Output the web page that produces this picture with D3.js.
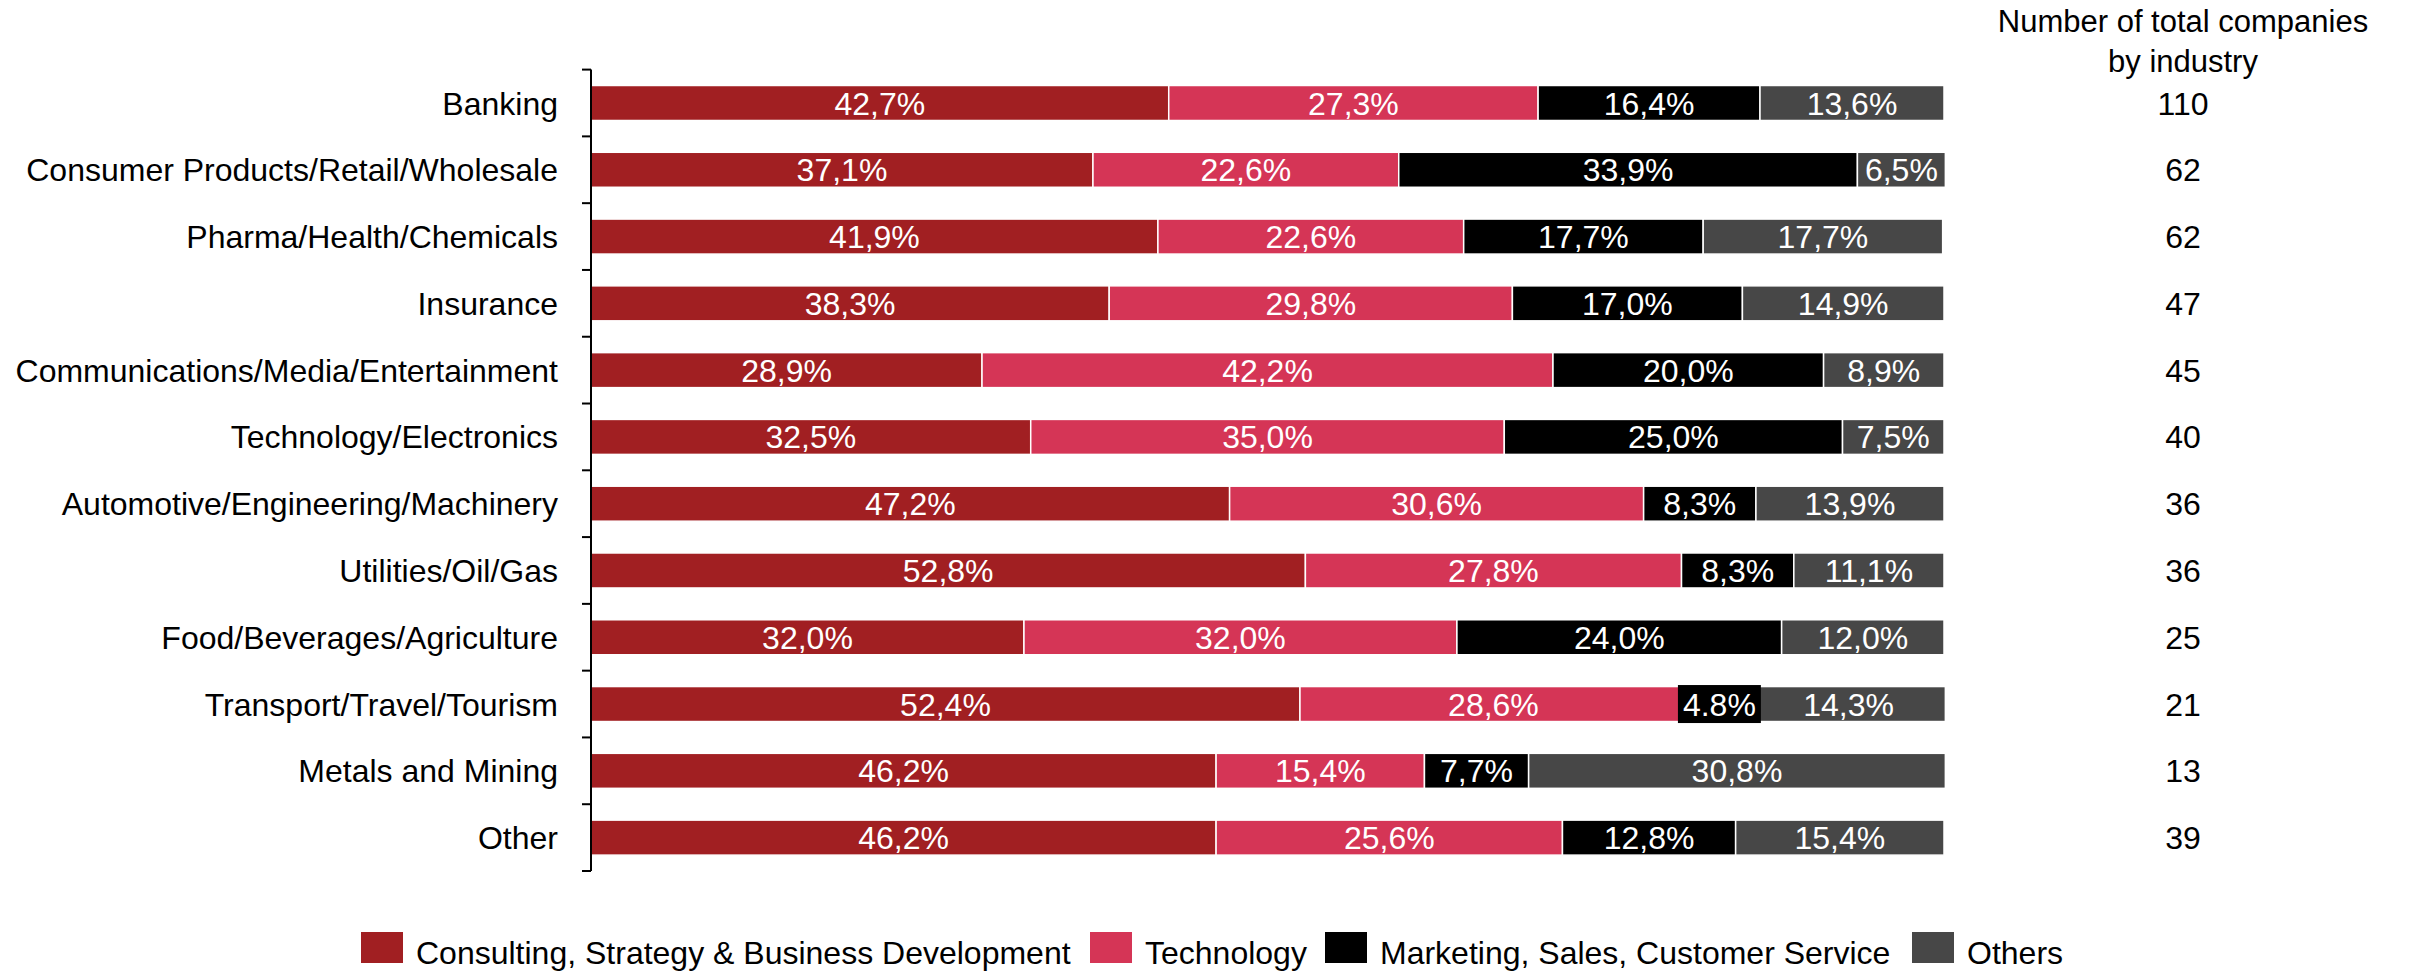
<!DOCTYPE html>
<html>
<head>
<meta charset="utf-8">
<script src="https://cdn.jsdelivr.net/npm/d3@7"></script>
<style>
  body { margin: 0; background: #fff; }
  text { font-family: "Liberation Sans", Arial, sans-serif; }
</style>
</head>
<body>
<div id="chart"></div>
<script>
var industries = ["Banking", "Consumer Products/Retail/Wholesale", "Pharma/Health/Chemicals", "Insurance",
  "Communications/Media/Entertainment", "Technology/Electronics", "Automotive/Engineering/Machinery",
  "Utilities/Oil/Gas", "Food/Beverages/Agriculture", "Transport/Travel/Tourism", "Metals and Mining", "Other"];
var seriesNames = ["Consulting, Strategy & Business Development", "Technology", "Marketing, Sales, Customer Service", "Others"];
var consulting = [42.7, 37.1, 41.9, 38.3, 28.9, 32.5, 47.2, 52.8, 32.0, 52.4, 46.2, 46.2];
var technology = [27.3, 22.6, 22.6, 29.8, 42.2, 35.0, 30.6, 27.8, 32.0, 28.6, 15.4, 25.6];
var marketing  = [16.4, 33.9, 17.7, 17.0, 20.0, 25.0,  8.3,  8.3, 24.0,  4.8,  7.7, 12.8];
var others     = [13.6,  6.5, 17.7, 14.9,  8.9,  7.5, 13.9, 11.1, 12.0, 14.3, 30.8, 15.4];
var totals     = [110, 62, 62, 47, 45, 40, 36, 36, 25, 21, 13, 39];
// the one label the source wrote with a dot (and a boxed background) instead of a comma
var dotLabels = [["Transport/Travel/Tourism", 2]];
var colors = ["#a11f22", "#d53556", "#000000", "#474747"];

var width = 2410, height = 971;
var axisX = 591, barEnd = 1944, countX = 2183;
var fontSize = 32;

var svg = d3.select("#chart").append("svg")
  .attr("width", width).attr("height", height);

var x = d3.scaleLinear().domain([0, 100]).range([axisX, barEnd]);
var y = d3.scaleBand().domain(industries).range([69.6, 871])
  .paddingInner(0.476).paddingOuter(0.238);

var rows = industries.map(function(name, i){
  return { name: name, v: [consulting[i], technology[i], marketing[i], others[i]] };
});

function isDot(row, k){
  return dotLabels.some(function(p){ return p[0] === row.name && p[1] === k; });
}
function fmt(d, row, k){
  var s = d.toFixed(1);
  return (isDot(row, k) ? s : s.replace(".", ",")) + "%";
}

// bars
var boxed = [];
rows.forEach(function(row){
  var g = svg.append("g");
  var acc = 0;
  row.v.forEach(function(val, k){
    var x0 = x(acc), x1 = x(acc + val);
    acc += val;
    g.append("rect")
      .attr("x", x0).attr("y", y(row.name))
      .attr("width", x1 - x0).attr("height", y.bandwidth())
      .attr("fill", colors[k])
      .attr("stroke", "#fff").attr("stroke-width", 1.5);
    var info = { cx: (x0 + x1) / 2, cy: y(row.name) + y.bandwidth() / 2, txt: fmt(val, row, k), k: k };
    if (isDot(row, k)) { boxed.push(info); return; }
    g.append("text")
      .attr("x", info.cx).attr("y", info.cy)
      .attr("dy", "0.36em")
      .attr("text-anchor", "middle")
      .attr("fill", "#fff")
      .style("font-size", fontSize + "px")
      .text(info.txt);
  });
});

// labels with their own background box, drawn on top
boxed.forEach(function(b){
  var t = svg.append("text")
    .attr("x", b.cx).attr("y", b.cy)
    .attr("dy", "0.36em")
    .attr("text-anchor", "middle")
    .attr("fill", "#fff")
    .style("font-size", fontSize + "px")
    .text(b.txt);
  var w = t.node().getComputedTextLength() + 10;
  svg.insert("rect", function(){ return t.node(); })
    .attr("x", b.cx - w / 2).attr("y", b.cy - y.bandwidth() / 2 - 1.5)
    .attr("width", w).attr("height", y.bandwidth() + 3)
    .attr("fill", colors[b.k]);
});

// axis with ticks between categories
var half = y.step() * y.paddingInner() / 2;
var bounds = industries.map(function(c){ return y(c) - half; });
bounds.push(y(industries[industries.length - 1]) + y.bandwidth() + half);
svg.append("line")
  .attr("x1", axisX).attr("x2", axisX)
  .attr("y1", bounds[0]).attr("y2", bounds[bounds.length - 1])
  .attr("stroke", "#000").attr("stroke-width", 2);
svg.selectAll(".tick").data(bounds).enter().append("line")
  .attr("x1", axisX - 9).attr("x2", axisX)
  .attr("y1", function(d){ return d; }).attr("y2", function(d){ return d; })
  .attr("stroke", "#000").attr("stroke-width", 2);

svg.selectAll(".cat").data(industries).enter().append("text")
  .attr("x", axisX - 33)
  .attr("y", function(d){ return y(d) + y.bandwidth() / 2; })
  .attr("dy", "0.36em")
  .attr("text-anchor", "end")
  .style("font-size", fontSize + "px")
  .text(function(d){ return d; });

// right column
svg.append("text").attr("x", countX).attr("y", 32).attr("text-anchor", "middle")
  .style("font-size", "31px").text("Number of total companies");
svg.append("text").attr("x", countX).attr("y", 72).attr("text-anchor", "middle")
  .style("font-size", "31px").text("by industry");
svg.selectAll(".count").data(totals).enter().append("text")
  .attr("x", countX)
  .attr("y", function(d, i){ return y(industries[i]) + y.bandwidth() / 2; })
  .attr("dy", "0.36em")
  .attr("text-anchor", "middle")
  .style("font-size", fontSize + "px")
  .text(function(d){ return d; });

// legend
var legendX = [361, 1090, 1325, 1912];
var legend = svg.selectAll(".leg").data(seriesNames).enter().append("g")
  .attr("transform", function(d, i){ return "translate(" + legendX[i] + ",932)"; });
legend.append("rect")
  .attr("x", 0).attr("y", 0).attr("width", 42).attr("height", 31)
  .attr("fill", function(d, i){ return colors[i]; });
legend.append("text")
  .attr("x", 55).attr("y", 32)
  .style("font-size", fontSize + "px")
  .text(function(d){ return d; });
</script>
</body>
</html>
